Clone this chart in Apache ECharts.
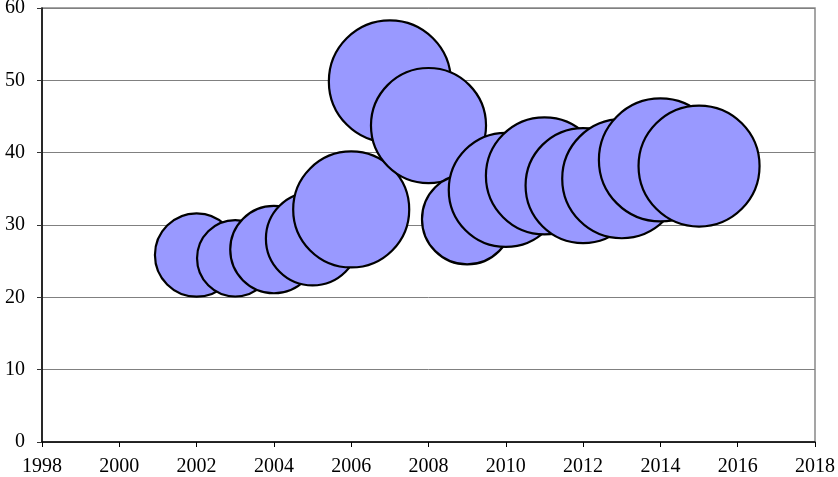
<!DOCTYPE html>
<html>
<head>
<meta charset="utf-8">
<script src="https://cdn.jsdelivr.net/npm/echarts@6/dist/echarts.min.js"></script>
<style>
html,body{margin:0;padding:0;background:#fff;}
#chart{width:838px;height:477px;}
</style>
</head>
<body>
<div id="chart"></div>
<script>
const years = [2002, 2003, 2004, 2005, 2006, 2007, 2008, 2009, 2010, 2011, 2012, 2013, 2014, 2015];
const values = [25.85, 25.4, 26.6, 28.1, 32.15, 49.85, 43.75, 30.8, 34.85, 36.8, 35.45, 36.4, 39.0, 38.15];
const bubbleSizes = [45.9, 38.6, 50.4, 57.5, 89.0, 98.4, 87.5, 53.9, 86.0, 90.6, 87.5, 93.7, 100, 96.8];
const xTicks = [1998, 2000, 2002, 2004, 2006, 2008, 2010, 2012, 2014, 2016, 2018];
const yTicks = [0, 10, 20, 30, 40, 50, 60];

const maxSize = Math.max(...bubbleSizes);
const data = years.map((y, i) => [y, values[i], bubbleSizes[i]]);

const chart = echarts.init(document.getElementById('chart'), null, {renderer: 'canvas'});
const font = '"Liberation Serif", "Times New Roman", serif';
chart.setOption({
  animation: false,
  backgroundColor: '#fff',
  grid: {
    left: 42, right: 23, top: 8, bottom: 35,
    containLabel: false, outerBoundsMode: 'none',
    show: true, borderColor: '#888', borderWidth: 1.5, backgroundColor: 'transparent'
  },
  xAxis: {
    type: 'value',
    min: xTicks[0], max: xTicks[xTicks.length - 1], interval: 2,
    axisLine: {show: true, onZero: false, lineStyle: {color: '#000', width: 1.5}},
    axisTick: {show: true, inside: false, length: 5, lineStyle: {color: '#000'}},
    splitLine: {show: false},
    axisLabel: {
      color: '#000', fontFamily: font, fontSize: 20, margin: 15,
      formatter: v => String(v)
    }
  },
  yAxis: {
    type: 'value',
    min: yTicks[0], max: yTicks[yTicks.length - 1], interval: 10,
    axisLine: {show: true, onZero: false, lineStyle: {color: '#000', width: 1.5}},
    axisTick: {show: true, inside: false, length: 5, lineStyle: {color: '#333'}},
    splitLine: {show: true, lineStyle: {color: '#808080', width: 1}},
    axisLabel: {
      color: '#000', fontFamily: font, fontSize: 20, margin: 17,
      formatter: v => String(v)
    }
  },
  series: [{
    type: 'scatter',
    data: data,
    symbol: 'circle',
    symbolSize: d => 2 * 61.5 * Math.sqrt(d[2] / maxSize),
    itemStyle: {color: '#9999FF', borderColor: '#000', borderWidth: 2.2, opacity: 1},
    emphasis: {disabled: true}
  }]
});
</script>
</body>
</html>
